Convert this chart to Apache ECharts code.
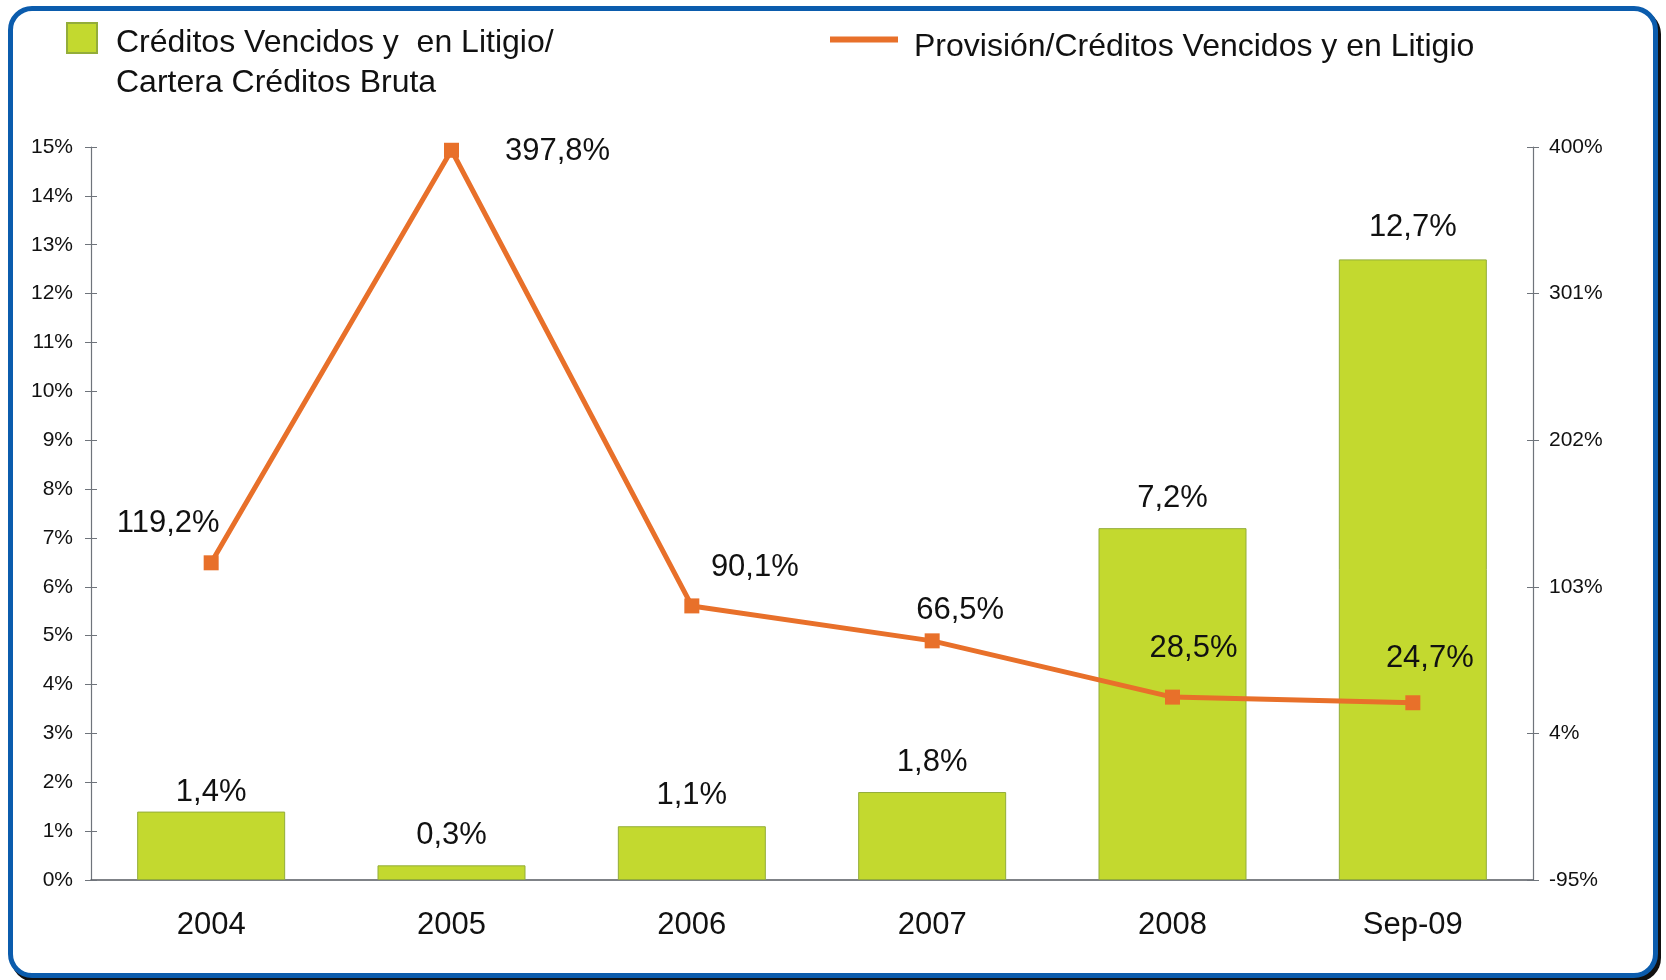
<!DOCTYPE html>
<html>
<head>
<meta charset="utf-8">
<script src="https://cdn.jsdelivr.net/npm/echarts@6/dist/echarts.min.js"></script>
<style>
  html, body { margin: 0; padding: 0; background: #ffffff; }
  #frame {
    position: absolute; left: 8px; top: 6px;
    width: 1640px; height: 962px;
    border: 5px solid #0b5cad; border-radius: 24px;
    box-shadow: 3px 4px 0 #111;
    background: #ffffff;
  }
  #chart { position: absolute; left: 0; top: 0; width: 1666px; height: 980px; }
</style>
</head>
<body>
<div id="frame"></div>
<div id="chart"></div>
<script>
// Periods on the category axis
const categories = ['2004', '2005', '2006', '2007', '2008', 'Sep-09'];
// Past-due and litigated loans / gross loan portfolio (%)
const vencidosCartera = [1.4, 0.3, 1.1, 1.8, 7.2, 12.7];
// Provisions / past-due and litigated loans (%)
const provisionVencidos = [119.2, 397.8, 90.1, 66.5, 28.5, 24.7];
// Right-axis tick values
const rightTicks = [-95, 4, 103, 202, 301, 400];

const barName = 'Créditos Vencidos y  en Litigio/\nCartera Créditos Bruta';
const lineName = 'Provisión/Créditos Vencidos y en Litigio';

// Label placement tweaks (pixels) for each point
const lineLabelOffsets = [[-43, -39], [106, 1], [63, -38], [28, -30], [21, -49], [17, -44]];
const barLabelDistances = [4, 14, 15, 14, 14, 16];

const FONT = '"Liberation Sans", Arial, sans-serif';
const pct = v => v.toFixed(1).replace('.', ',') + '%';

const chart = echarts.init(document.getElementById('chart'), null, { renderer: 'canvas' });

const axisGray = '#6f747b';

const option = {
  animation: false,
  backgroundColor: 'transparent',
  textStyle: { fontFamily: FONT, color: '#111' },
  grid: { left: 91, right: 133, top: 147, bottom: 100, containLabel: false },
  legend: [
    {
      // spacer line keeps the swatch level with the first text line
      data: [barName],
      formatter: name => '{s| }\n' + name.split('\n').map(l => '{t|' + l + '}').join('\n'),
      left: 66, top: -6, padding: 0,
      icon: 'rect',
      itemWidth: 30, itemHeight: 30,
      selectedMode: false,
      textStyle: {
        fontFamily: FONT, fontSize: 32, color: '#111', padding: [0, 0, 0, 14],
        rich: {
          s: { fontSize: 8, lineHeight: 50 },
          t: { fontFamily: FONT, fontSize: 32, lineHeight: 40, color: '#111' }
        }
      }
    },
    {
      // short spacer line drops the text slightly below the swatch
      data: [lineName],
      formatter: name => '{s| }\n{t|' + name + '}',
      left: 830, top: 20, padding: 0,
      icon: 'rect', itemWidth: 68, itemHeight: 6,
      selectedMode: false,
      textStyle: {
        fontFamily: FONT, fontSize: 32, color: '#111', padding: [0, 0, 0, 11],
        rich: {
          s: { fontSize: 8, lineHeight: 16 },
          t: { fontFamily: FONT, fontSize: 32, lineHeight: 31, color: '#111' }
        }
      }
    }
  ],
  xAxis: {
    type: 'category',
    data: categories,
    axisLine: { lineStyle: { color: '#555a60', width: 1.5 } },
    axisTick: { show: false },
    axisLabel: { fontFamily: FONT, fontSize: 31, color: '#111', margin: 30 },
    splitLine: { show: false }
  },
  yAxis: [
    {
      type: 'value', position: 'left',
      min: 0, max: 15, interval: 1,
      axisLine: { show: true, lineStyle: { color: axisGray, width: 1.2 } },
      axisTick: { show: true, length: 6, lineStyle: { color: axisGray } },
      axisLabel: { fontFamily: FONT, fontSize: 21, color: '#111', margin: 18, formatter: '{value}%' },
      splitLine: { show: false }
    },
    {
      type: 'value', position: 'right',
      min: -95, max: 400,
      axisLine: { show: true, lineStyle: { color: axisGray, width: 1.2 } },
      axisTick: { show: true, length: 6, lineStyle: { color: axisGray }, customValues: rightTicks },
      axisLabel: { fontFamily: FONT, fontSize: 21, color: '#111', margin: 16, formatter: '{value}%', customValues: rightTicks },
      splitLine: { show: false }
    },
    {
      // inner half of the left crossing ticks
      type: 'value', position: 'left',
      min: 0, max: 15, interval: 1,
      axisLine: { show: false },
      axisTick: { show: true, inside: true, length: 6, lineStyle: { color: axisGray } },
      axisLabel: { show: false },
      splitLine: { show: false }
    },
    {
      // inner half of the right crossing ticks
      type: 'value', position: 'right',
      min: -95, max: 400,
      axisLine: { show: false },
      axisTick: { show: true, inside: true, length: 6, lineStyle: { color: axisGray }, customValues: rightTicks },
      axisLabel: { show: false },
      splitLine: { show: false }
    }
  ],
  series: [
    {
      name: barName,
      type: 'bar',
      yAxisIndex: 0,
      barWidth: 148,
      data: vencidosCartera.map((v, i) => ({
        value: v,
        label: { distance: barLabelDistances[i] }
      })),
      itemStyle: { color: '#c3d92f', borderColor: '#93ad3a', borderWidth: 1 },
      label: {
        show: true, position: 'top',
        fontFamily: FONT, fontSize: 31, color: '#111',
        formatter: p => pct(p.value)
      },
      z: 2
    },
    {
      name: lineName,
      type: 'line',
      yAxisIndex: 1,
      data: provisionVencidos.map((v, i) => ({
        value: v,
        label: { offset: lineLabelOffsets[i] }
      })),
      lineStyle: { color: '#e8702a', width: 5 },
      itemStyle: { color: '#e8702a' },
      symbol: 'rect', symbolSize: 15,
      label: {
        show: true, position: 'inside',
        fontFamily: FONT, fontSize: 31, color: '#111',
        formatter: p => pct(p.value)
      },
      z: 5
    }
  ]
};

chart.setOption(option);
</script>
</body>
</html>
